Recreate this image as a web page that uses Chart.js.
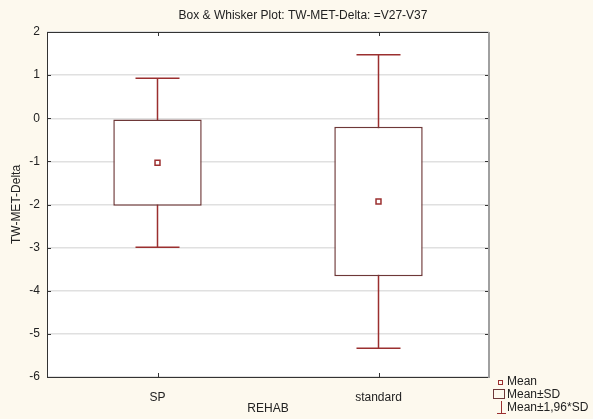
<!DOCTYPE html>
<html>
<head>
<meta charset="utf-8">
<script src="https://cdn.jsdelivr.net/npm/chart.js@4.4.1/dist/chart.umd.min.js"></script>
<style>
  html, body { margin: 0; padding: 0; background: #fdf9ee; }
  #wrap { width: 593px; height: 419px; }
</style>
</head>
<body>
<div id="wrap"><canvas id="myChart" width="593" height="419"></canvas></div>
<script>
// values
const categories = ['SP', 'standard'];
const means = [-1.03, -1.93];
const sds = [1.0, 1.735];
const whiskerFactor = 1.96;
const yTicks = [2, 1, 0, -1, -2, -3, -4, -5, -6];
const titleText = 'Box & Whisker Plot: TW-MET-Delta: =V27-V37';

const boxColor = '#6e3838';
const redColor = '#9b2f2f';
const fontFam = '"Liberation Sans", Arial, sans-serif';

const boxData = means.map((m, i) => [m - sds[i], m + sds[i]]);

// title, whiskers, ticks, frame and legend
const boxExtras = {
   id: 'boxExtras',
   beforeDraw(chart) {
      const { ctx, chartArea } = chart;
      ctx.save();
      ctx.fillStyle = '#ffffff';
      ctx.fillRect(chartArea.left, chartArea.top, chartArea.right - chartArea.left, chartArea.bottom - chartArea.top);
      ctx.restore();
   },
   beforeDatasetsDraw(chart) {
      const { ctx } = chart;
      const x = chart.scales.x, y = chart.scales.y;
      ctx.save();
      ctx.strokeStyle = redColor;
      ctx.lineWidth = 1.5;
      means.forEach((m, i) => {
         const cx = x.getPixelForValue(i);
         const hi = y.getPixelForValue(m + whiskerFactor * sds[i]);
         const lo = y.getPixelForValue(m - whiskerFactor * sds[i]);
         ctx.beginPath();
         ctx.moveTo(cx, hi); ctx.lineTo(cx, lo);
         ctx.moveTo(cx - 22, hi); ctx.lineTo(cx + 22, hi);
         ctx.moveTo(cx - 22, lo); ctx.lineTo(cx + 22, lo);
         ctx.stroke();
      });
      ctx.restore();
   },
   afterDraw(chart) {
      const { ctx, chartArea } = chart;
      const { left, right, top, bottom } = chartArea;
      const x = chart.scales.x, y = chart.scales.y;
      ctx.save();
      // title
      ctx.font = '12px ' + fontFam;
      ctx.fillStyle = '#222';
      ctx.textBaseline = 'middle';
      ctx.textAlign = 'center';
      ctx.fillText(titleText, 303, 16);

      // inward ticks
      ctx.strokeStyle = '#333';
      ctx.lineWidth = 1;
      ctx.beginPath();
      categories.forEach((c, i) => {
         const px = Math.round(x.getPixelForValue(i)) + 0.5;
         ctx.moveTo(px, bottom); ctx.lineTo(px, bottom - 4);
         ctx.moveTo(px, top); ctx.lineTo(px, top + 4);
      });
      yTicks.forEach(v => {
         const py = Math.round(y.getPixelForValue(v)) + 0.5;
         ctx.moveTo(left, py); ctx.lineTo(left + 4, py);
         ctx.moveTo(right, py); ctx.lineTo(right - 4, py);
      });
      ctx.stroke();
      // frame
      ctx.strokeStyle = '#333';
      ctx.beginPath();
      ctx.moveTo(left + 0.5, bottom + 0.5);
      ctx.lineTo(left + 0.5, top + 0.5);
      ctx.lineTo(right, top + 0.5);
      ctx.moveTo(left + 0.5, bottom + 0.5);
      ctx.lineTo(right, bottom + 0.5);
      ctx.stroke();
      ctx.strokeStyle = '#a0a0a0';
      ctx.lineWidth = 2;
      ctx.beginPath();
      ctx.moveTo(right, top); ctx.lineTo(right, bottom + 1);
      ctx.stroke();

      // legend
      ctx.textAlign = 'left';
      ctx.lineWidth = 1;
      ctx.strokeStyle = redColor;
      ctx.strokeRect(498.5, 380.5, 4, 4);
      ctx.fillText('Mean', 507, 382);
      ctx.strokeStyle = boxColor;
      ctx.strokeRect(493.5, 389.5, 11, 9);
      ctx.fillText('Mean±SD', 507, 395);
      ctx.strokeStyle = redColor;
      ctx.beginPath();
      ctx.moveTo(501.5, 401); ctx.lineTo(501.5, 413);
      ctx.moveTo(497, 413.5); ctx.lineTo(506, 413.5);
      ctx.stroke();
      ctx.fillText('Mean±1,96*SD', 507, 408);
      ctx.restore();
   }
};

const ctx = document.getElementById('myChart').getContext('2d');
new Chart(ctx, {
   type: 'bar',
   data: {
      labels: categories,
      datasets: [{
         label: 'Mean±SD',
         data: boxData,
         backgroundColor: '#ffffff',
         borderColor: boxColor,
         borderWidth: 1.5,
         borderSkipped: false,
         categoryPercentage: 1,
         barPercentage: 0.4,
         order: 2
      }, {
         type: 'line',
         label: 'Mean',
         data: means,
         showLine: false,
         pointStyle: 'rect',
         pointRadius: 3.5,
         pointBorderWidth: 1.5,
         pointBorderColor: redColor,
         pointBackgroundColor: '#ffffff',
         order: 1
      }]
   },
   options: {
      responsive: false,
      animation: false,
      layout: { padding: { top: 32, right: 104, bottom: 0, left: 0 } },
      plugins: {
         legend: { display: false },
         tooltip: { enabled: false },
         title: { display: false }
      },
      scales: {
         x: {
            grid: { display: false },
            border: { display: false },
            ticks: { color: '#222', font: { family: fontFam, size: 12 }, padding: 5 },
            title: {
               display: true, text: 'REHAB', color: '#222',
               font: { family: fontFam, size: 12 }, padding: { top: 0, bottom: 3 }
            },
            afterFit: (scale) => { scale.height = 42; }
         },
         y: {
            min: -6,
            max: 2,
            afterBuildTicks: (scale) => { scale.ticks = yTicks.map(v => ({ value: v })); },
            grid: { color: '#e0e0e0', lineWidth: 1.5, drawTicks: false },
            border: { display: false },
            ticks: { color: '#222', font: { family: fontFam, size: 12 }, padding: 7 },
            title: {
               display: true, text: 'TW-MET-Delta', color: '#222',
               font: { family: fontFam, size: 12 }, padding: { top: 9, bottom: 0 }
            },
            afterFit: (scale) => { scale.width = 47; }
         }
      }
   },
   plugins: [boxExtras]
});
</script>
</body>
</html>
